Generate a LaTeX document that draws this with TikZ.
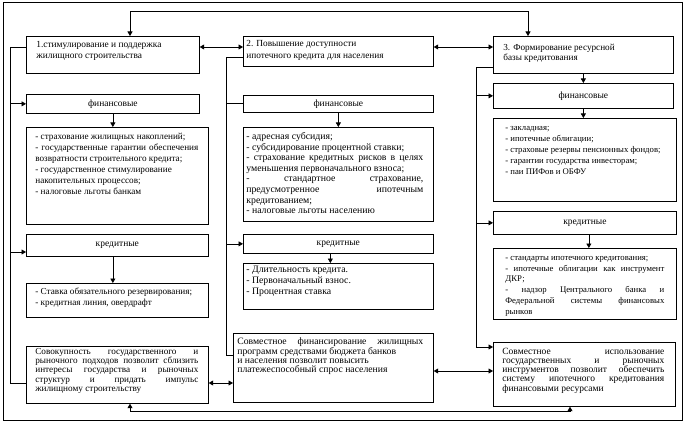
\documentclass[tikz,border=0pt]{standalone}
\usepackage{fontspec}
\setmainfont{Liberation Serif}
\usetikzlibrary{arrows.meta}
% one justified line of a box text
\newcommand{\jline}[1]{\leavevmode\hbox to\hsize{#1}}
% size and line spacing of a box text
\newcommand{\fsz}[2]{\fontsize{#1}{#2}\selectfont}

\begin{document}
\begin{tikzpicture}[
    x=1pt, y=-1pt,
    line width=0.7pt,
    box/.style={draw, anchor=north west, inner sep=0pt, font=\fsz{9.5}{11}},
    txt/.style={anchor=base west, inner sep=0pt, align=flush left},
    arr/.style={-{Triangle[length=4.5pt,width=5pt]}},
    arrs/.style={{Triangle[length=4.5pt,width=5pt]}-{Triangle[length=4.5pt,width=5pt]}}
]
    \useasboundingbox (0,0) rectangle (685,422);

    % --- Outer frame ---
    \draw (3,2) rectangle (682,420);

    % --- COLUMN 1 ---
    \node[box, minimum width=173pt, minimum height=37pt] (b1) at (26,36) {};
    \node[txt, font=\fsz{9.4}{11.5}, text width=170pt] (b1t) at (36,47.5) {1.стимулирование и поддержка\\жилищного строительства};

    \node[box, minimum width=173pt, minimum height=19pt] (f1) at (26,94) {финансовые};

    \node[box, minimum width=182pt, minimum height=97pt] (d1) at (26,127) {};
    \node[txt, font=\fsz{9.2}{11}, text width=163pt] (d1t) at (35,139.5) {%
        - страхование жилищных накоплений;\\
        \jline{- государственные гарантии обеспечения}\\
        возвратности строительного кредита;\\
        - государственное стимулирование\\
        накопительных процессов;\\
        - налоговые льготы банкам};

    \node[box, minimum width=182pt, minimum height=22pt] (k1) at (26,234) {кредитные};

    \node[box, minimum width=182pt, minimum height=34pt] (e1) at (26,283) {};
    \node[txt, font=\fsz{9.2}{11}, text width=170pt] (e1t) at (35,294.5) {%
        - Ставка обязательного резервирования;\\
        - кредитная линия, овердрафт};

    \node[box, minimum width=182pt, minimum height=57pt] (s1) at (26,346) {};
    \node[txt, font=\fsz{9.2}{9.4}, text width=163pt] (s1t) at (35,354) {%
        \jline{Совокупность государственного и}\\
        \jline{рыночного подходов позволит сблизить}\\
        \jline{интересы государства и рыночных}\\
        \jline{структур и придать импульс}\\
        жилищному строительству};

    % --- COLUMN 2 ---
    \node[box, minimum width=190pt, minimum height=30pt] (b2) at (243,36) {};
    \node[txt, font=\fsz{9.3}{12}, text width=185pt] (b2t) at (246,46.5) {2. Повышение доступности\\ипотечного кредита для населения};

    \node[box, minimum width=190pt, minimum height=17pt] (f2) at (243,95) {финансовые};

    \node[box, minimum width=190pt, minimum height=94pt] (d2) at (243,127) {};
    \node[txt, font=\fsz{9.8}{10.6}, text width=177pt] (d2t) at (246,139.5) {%
        - адресная субсидия;\\
        - субсидирование процентной ставки;\\
        \jline{- страхование кредитных рисков в целях}\\
        уменьшения первоначального взноса;\\
        \jline{- стандартное страхование,}\\
        \jline{предусмотренное ипотечным}\\
        кредитованием;\\
        - налоговые льготы населению};

    \node[box, minimum width=190pt, minimum height=19pt] (k2) at (243,234) {кредитные};

    \node[box, minimum width=190pt, minimum height=46pt] (e2) at (243,263) {};
    \node[txt, font=\fsz{9.8}{10.8}, text width=177pt] (e2t) at (246,272.5) {%
        - Длительность кредита.\\
        - Первоначальный взнос.\\
        - Процентная ставка};

    \node[box, minimum width=200pt, minimum height=69pt] (s2) at (233,333) {};
    \node[txt, font=\fsz{9.7}{9}, text width=186pt] (s2t) at (237,344) {%
        \jline{Совместное финансирование жилищных}\\
        программ средствами бюджета банков\\
        и населения позволит повысить\\
        платежеспособный спрос населения};

    % --- COLUMN 3 ---
    \node[box, minimum width=180pt, minimum height=37pt] (b3) at (493,36) {};
    \node[txt, font=\fsz{9.2}{10}, text width=165pt] (b3t) at (503,50.5) {3. Формирование ресурсной\\базы кредитования};

    \node[box, minimum width=180pt, minimum height=25pt] (f3) at (493,83) {финансовые};

    \node[box, minimum width=183pt, minimum height=83pt] (d3) at (493,118) {};
    \node[txt, font=\fsz{8.7}{11}, text width=165pt] (d3t) at (505,130.5) {%
        - закладная;\\
        - ипотечные облигации;\\
        - страховые резервы пенсионных фондов;\\
        - гарантии государства инвесторам;\\
        - паи ПИФов и ОБФУ};

    \node[box, minimum width=183pt, minimum height=23pt] (k3) at (493,211) {кредитные};

    \node[box, minimum width=183pt, minimum height=71pt] (e3) at (493,248) {};
    \node[txt, font=\fsz{8.7}{10.7}, text width=159pt] (e3t) at (505,260.5) {%
        - стандарты ипотечного кредитования;\\
        \jline{- ипотечные облигации как инструмент}\\
        ДКР;\\
        \jline{- надзор Центрального банка и}\\
        \jline{Федеральной системы финансовых}\\
        рынков};

    \node[box, minimum width=182pt, minimum height=64pt] (s3) at (493,342) {};
    \node[txt, font=\fsz{9.5}{9.3}, text width=162pt] (s3t) at (502,354) {%
        \jline{Совместное использование}\\
        \jline{государственных и рыночных}\\
        \jline{инструментов позволит обеспечить}\\
        \jline{систему ипотечного кредитования}\\
        финансовыми ресурсами};

    % --- Top and bottom links ---
    \coordinate (t1) at (130,11);
    \coordinate (t3) at (528,11);
    \draw[arrs] (b1.north -| t1) -- (t1) -- (t3) -- (b3.north -| t3);

    \coordinate (u1) at (130,411);
    \coordinate (u3) at (570,411);
    \draw[arrs] (s1.south -| u1) -- (u1) -- (u3) -- (s3.south -| u3);

    % --- Links between the columns ---
    \coordinate (h1) at (220,47);
    \draw[arrs] (b1.east |- h1) -- (b2.west |- h1);
    \draw[arrs] (b2.east |- h1) -- (b3.west |- h1);

    \coordinate (h2) at (220,383);
    \draw[arrs] (s1.east |- h2) -- (s2.west |- h2);
    \coordinate (h3) at (460,371);
    \draw[arrs] (s2.east |- h3) -- (s3.west |- h3);

    % --- Left rails ---
    \coordinate (l1) at (10,47);
    \coordinate (l1b) at (10,383);
    \coordinate (l1k) at (10,252);
    \draw (b1.west |- l1) -- (l1) -- (l1b) -- (s1.west |- l1b);
    \draw[arr] (l1 |- f1.west) -- (f1.west);
    \draw[arr] (l1k) -- (k1.west |- l1k);

    \coordinate (l2) at (226,57);
    \coordinate (l2b) at (226,355);
    \draw (b2.west |- l2) -- (l2) -- (l2b) -- (s2.west |- l2b);
    \draw (l2 |- f2.west) -- (f2.west);
    \draw[arr] (l2 |- k2.west) -- (k2.west);

    \coordinate (l3) at (476,67);
    \coordinate (l3b) at (476,347);
    \draw[arr] (b3.west |- l3) -- (l3) -- (l3b) -- (s3.west |- l3b);
    \draw[arr] (l3 |- f3.west) -- (f3.west);
    \draw[arr] (l3 |- k3.west) -- (k3.west);

    % --- Down arrows ---
    \draw[arr] (b3.south) -- (f3.north);
    \draw[arr] (f1.south) -- (f1.south |- d1.north);
    \draw[arr] (k1.south -| f1.south) -- (e1.north -| f1.south);
    \draw[arr] (f2.south) -- (f2.south |- d2.north);
    \draw[arr] ([xshift=-8pt]k2.south) -- ([xshift=-8pt]k2.south |- e2.north);
    \draw[arr] (f3.south) -- (f3.south |- d3.north);
    \draw[arr] ([xshift=4pt]k3.south) -- ([xshift=4pt]k3.south |- e3.north);

\end{tikzpicture}
\end{document}
